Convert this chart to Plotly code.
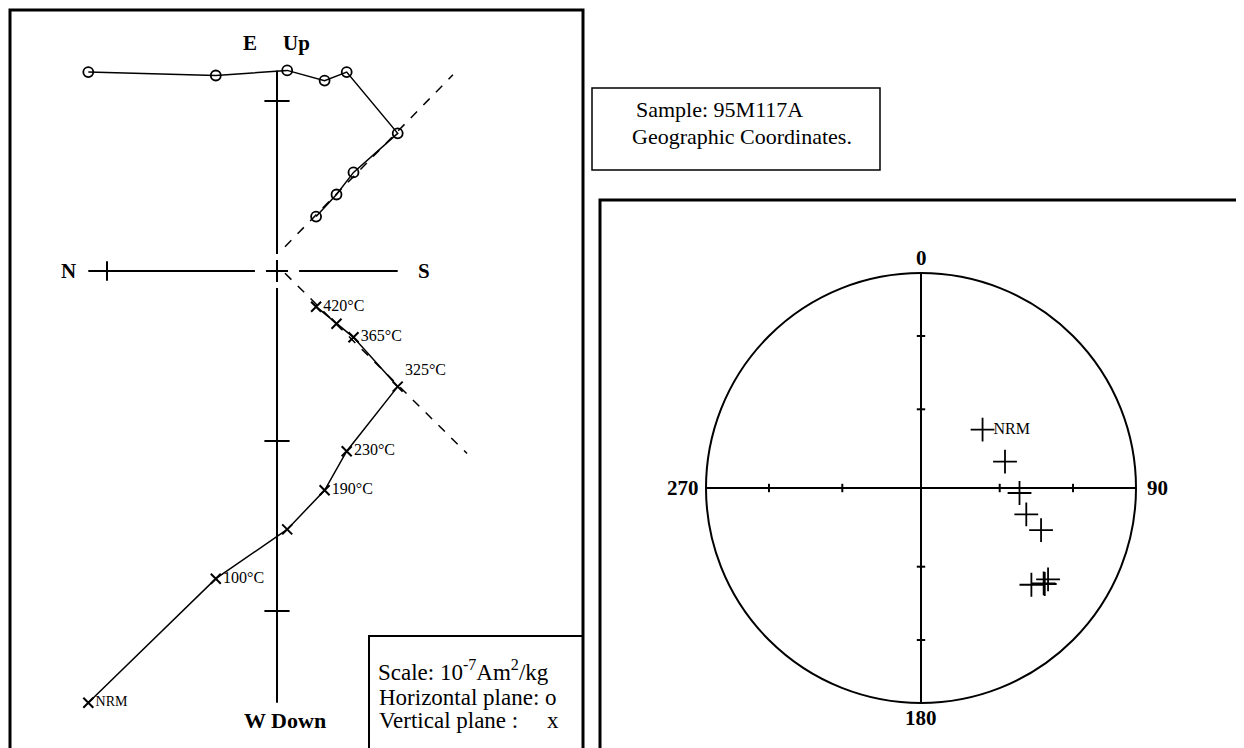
import numpy as np
import plotly.graph_objects as go

W, H = 1244, 748
OFF = 8                      # page body margin of the html
FW, FH = W - OFF, H - OFF    # figure size
FONT = 'Liberation Serif'

# demagnetisation steps, sample 95M117A (components in units of one axis tick)
steps = ['NRM', '100°C', '', '190°C', '230°C', '325°C', '365°C', '', '420°C']
north = [1.11, 0.36, -0.06, -0.28, -0.41, -0.71, -0.45, -0.35, -0.23]
east = [1.17, 1.15, 1.18, 1.12, 1.17, 0.81, 0.58, 0.45, 0.32]
down = [2.54, 1.81, 1.52, 1.29, 1.06, 0.68, 0.39, 0.31, 0.21]
fit_first = 5  # steps used for the line fit (325°C and above)

n_ticks = [1]
v_ticks = [1, -1, -2]
stereo_ticks_inc = [30, 60]
stereo_labels = ['0', '90', '180', '270']

up = [-d for d in down]

# declination / inclination for the stereonet
dec = np.degrees(np.arctan2(east, north)) % 360
inc = np.degrees(np.arctan2(down, np.hypot(north, east)))


def eq_area(inc_deg):
    return np.sqrt(2) * np.sin(np.radians(90 - np.asarray(inc_deg)) / 2)


r = eq_area(inc)
sx = r * np.sin(np.radians(dec))
sy = r * np.cos(np.radians(dec))


def fit_line(xs, ys, x_from, x_to):
    pts = np.column_stack([xs, ys])
    c = pts.mean(axis=0)
    _, _, vt = np.linalg.svd(pts - c)
    d = vt[0]
    slope = d[1] / d[0]
    xx = np.array([x_from, x_to])
    return xx, c[1] + (xx - c[0]) * slope


def pxx(x):
    return (x - OFF) / FW


def pxy(y):
    return 1 - (y - OFF) / FH


# pixel geometry of the two plots (page pixels)
ZX0, ZY0, ZPX = 277, 271, 170   # zijderveld origin and px per unit
SX0, SY0, SR = 921, 488, 215    # stereonet centre and radius

BLK = 'black'
CLEAR = 'rgba(0,0,0,0)'
fig = go.Figure()

# ---- Zijderveld diagram ----
gap_h, gap_v, cross = 0.13, 0.1, 0.065
fig.add_trace(go.Scatter(
    x=[max(north), gap_h, None, -gap_h, min(north)], y=[0, 0, None, 0, 0],
    mode='lines', line=dict(color=BLK, width=2), xaxis='x', yaxis='y'))
fig.add_trace(go.Scatter(
    x=[0, 0, None, 0, 0], y=[max(east), gap_v, None, -gap_v, min(up)],
    mode='lines', line=dict(color=BLK, width=2), xaxis='x', yaxis='y'))
fig.add_trace(go.Scatter(
    x=[-cross, cross, None, 0, 0], y=[0, 0, None, -cross, cross],
    mode='lines', line=dict(color=BLK, width=2), xaxis='x', yaxis='y'))
fig.add_trace(go.Scatter(
    x=n_ticks, y=[0] * len(n_ticks), mode='markers',
    marker=dict(symbol='line-ns', size=14, line=dict(color=BLK, width=2)),
    xaxis='x', yaxis='y'))
fig.add_trace(go.Scatter(
    x=[0] * len(v_ticks), y=v_ticks, mode='markers',
    marker=dict(symbol='line-ew', size=18, line=dict(color=BLK, width=2)),
    xaxis='x', yaxis='y'))

# fitted lines (dashed)
fx, fy = fit_line(north[fit_first:], east[fit_first:], -0.047, -1.035)
fig.add_trace(go.Scatter(x=fx, y=fy, mode='lines',
                         line=dict(color=BLK, width=1.5, dash='dash'),
                         xaxis='x', yaxis='y'))
fx, fy = fit_line(north[fit_first:], up[fit_first:], -0.047, -1.118)
fig.add_trace(go.Scatter(x=fx, y=fy, mode='lines',
                         line=dict(color=BLK, width=1.5, dash='dash'),
                         xaxis='x', yaxis='y'))

# horizontal plane (o)
fig.add_trace(go.Scatter(
    x=north, y=east, mode='lines+markers',
    line=dict(color=BLK, width=1.5),
    marker=dict(symbol='circle-open', size=10, color=BLK,
                line=dict(color=BLK, width=1.8)),
    xaxis='x', yaxis='y'))
# vertical plane (x)
fig.add_trace(go.Scatter(
    x=north, y=up, mode='lines+markers',
    line=dict(color=BLK, width=1.5),
    marker=dict(symbol='x-thin', size=10, color=BLK,
                line=dict(color=BLK, width=2)),
    xaxis='x', yaxis='y'))
# step labels
lab = [i for i, s in enumerate(steps) if s]
fig.add_trace(go.Scatter(
    x=[north[i] for i in lab], y=[up[i] for i in lab], mode='markers+text',
    text=[steps[i] for i in lab],
    marker=dict(size=10, color=CLEAR),
    textposition=['top right' if steps[i] == '325°C' else 'middle right' for i in lab],
    textfont=dict(family=FONT, size=[14 if steps[i] == 'NRM' else 16 for i in lab],
                  color=BLK),
    xaxis='x', yaxis='y'))

# ---- stereonet ----
fig.add_trace(go.Scatter(
    x=[0, 0, None, -1, 1], y=[-1, 1, None, 0, 0], mode='lines',
    line=dict(color=BLK, width=2), xaxis='x2', yaxis='y2'))
rt = list(eq_area(stereo_ticks_inc))
fig.add_trace(go.Scatter(
    x=rt + [-v for v in rt], y=[0] * (2 * len(rt)), mode='markers',
    marker=dict(symbol='line-ns', size=6, line=dict(color=BLK, width=2)),
    xaxis='x2', yaxis='y2'))
fig.add_trace(go.Scatter(
    x=[0] * (2 * len(rt)), y=rt + [-v for v in rt], mode='markers',
    marker=dict(symbol='line-ew', size=6, line=dict(color=BLK, width=2)),
    xaxis='x2', yaxis='y2'))
fig.add_trace(go.Scatter(
    x=sx, y=sy, mode='markers',
    marker=dict(symbol='cross-thin', size=17, color=BLK,
                line=dict(color=BLK, width=1.8)),
    xaxis='x2', yaxis='y2'))
fig.add_trace(go.Scatter(
    x=sx[:1], y=sy[:1], mode='markers+text', text=[steps[0]],
    marker=dict(size=16, color=CLEAR),
    textposition='middle right',
    textfont=dict(family=FONT, size=16, color=BLK),
    xaxis='x2', yaxis='y2'))

shapes = [dict(type='circle', xref='x2', yref='y2', x0=-1, y0=-1, x1=1, y1=1,
               line=dict(color=BLK, width=2))]


def box(x0, y0, x1, y1, w):
    return dict(type='rect', xref='paper', yref='paper',
                x0=pxx(x0), x1=pxx(x1), y0=pxy(y1), y1=pxy(y0),
                line=dict(color=BLK, width=w), fillcolor=CLEAR)


shapes += [
    box(10, 10, 583, 760, 3),
    box(369, 636, 583, 760, 2),
    box(592, 88, 880, 170, 1.5),
    box(600, 200, 1260, 760, 3),
]


def ann(text, x, y, size, bold=False, xanchor='center'):
    return dict(text=('<b>%s</b>' % text) if bold else text, showarrow=False,
                font=dict(family=FONT, size=size, color=BLK),
                xanchor=xanchor, yanchor='middle',
                xref='paper', yref='paper', x=pxx(x), y=pxy(y))


annotations = [
    ann('E', 250, 43, 21, True),
    ann('Up', 296, 43, 21, True),
    ann('N', 69, 271, 21, True),
    ann('S', 424, 271, 21, True),
    ann('W Down', 285, 720, 22, True),
    ann('Scale: 10<sup>-7</sup>Am<sup>2</sup>/kg', 376, 670, 23, xanchor='left'),
    ann('Horizontal plane: o', 377, 697, 23, xanchor='left'),
    ann('Vertical plane :\u00a0\u00a0\u00a0\u00a0\u00a0x', 377, 720, 23, xanchor='left'),
    ann('Sample: 95M117A', 634, 109, 22, xanchor='left'),
    ann('Geographic Coordinates.', 630, 136, 22, xanchor='left'),
]
# stereonet direction labels, placed around the primitive circle
lab_off = [(0, -15), (21, 0), (0, 15), (-23, 0)]
for t, (dx, dy), ang in zip(stereo_labels, lab_off, [0, 90, 180, 270]):
    cx = SX0 + SR * np.sin(np.radians(ang)) + dx
    cy = SY0 - SR * np.cos(np.radians(ang)) + dy
    annotations.append(ann(t, cx, cy, 21, True))

ax = dict(visible=False, showgrid=False, zeroline=False)
fig.update_layout(
    width=FW, height=FH, margin=dict(l=0, r=0, t=0, b=0),
    paper_bgcolor='white', plot_bgcolor='white', showlegend=False,
    xaxis=dict(ax, domain=[pxx(10), pxx(583)],
               range=[(ZX0 - 10) / ZPX, (ZX0 - 583) / ZPX]),
    yaxis=dict(ax, domain=[0, pxy(10)],
               range=[(ZY0 - H) / ZPX, (ZY0 - 10) / ZPX]),
    xaxis2=dict(ax, domain=[pxx(SX0 - 240), pxx(SX0 + 240)],
                range=[-240 / SR, 240 / SR]),
    yaxis2=dict(ax, domain=[pxy(SY0 + 240), pxy(SY0 - 240)],
                range=[-240 / SR, 240 / SR]),
    shapes=shapes, annotations=annotations,
)

fig.write_html('out.html')
